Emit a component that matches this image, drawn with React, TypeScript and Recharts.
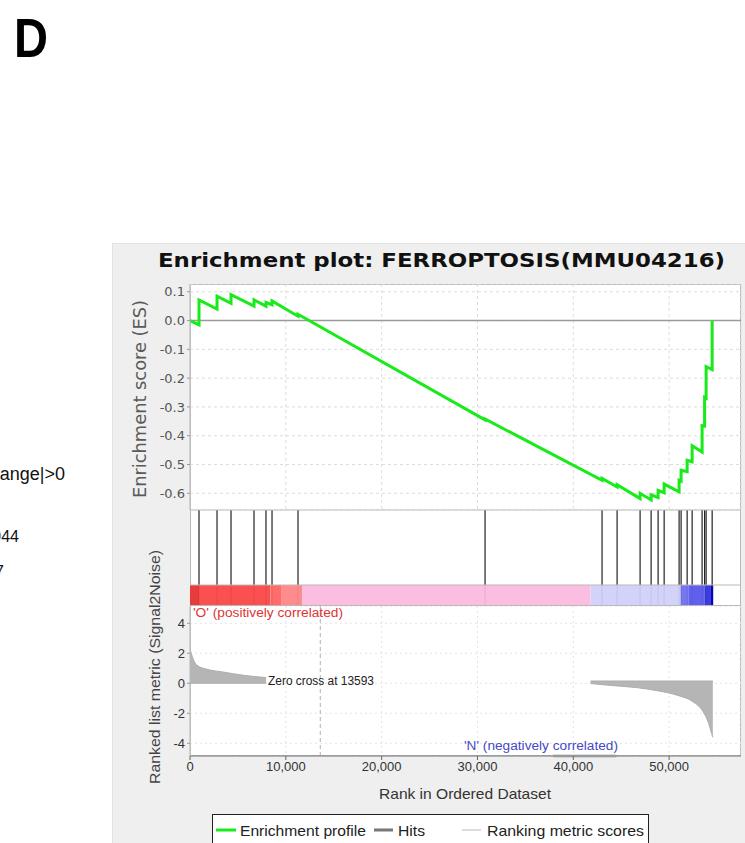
import React from "react";
import {
  Area,
  CartesianGrid,
  ComposedChart,
  Line,
  ReferenceArea,
  ReferenceLine,
  XAxis,
  YAxis,
} from "recharts";

// rank axis
const X_MAX = 57500;
const xTicks = [0, 10000, 20000, 30000, 40000, 50000];

// enrichment score
const esTicks = [0.1, 0, -0.1, -0.2, -0.3, -0.4, -0.5, -0.6];
const hitRanks = [
  940, 2820, 4280, 6680, 7930, 8560, 11270, 30790, 43000, 44570, 46970, 48120, 48850, 49480,
  51040, 51250, 51880, 52400, 53440, 53700, 53860, 54490,
];
const esBefore = [
  -0.015, 0.04, 0.06, 0.05, 0.05, 0.055, 0.015, -0.345, -0.555, -0.578, -0.618, -0.623, -0.615,
  -0.598, -0.595, -0.558, -0.525, -0.49, -0.457, -0.367, -0.27, -0.17,
];
const esAfter = [
  0.072, 0.085, 0.09, 0.072, 0.063, 0.068, 0.022, -0.342, -0.548, -0.57, -0.6, -0.605, -0.59,
  -0.568, -0.555, -0.52, -0.485, -0.435, -0.365, -0.267, -0.16, 0.0,
];

// colour bar under the hits
const bandStart = [0, 940, 8400, 9500, 11700, 41800, 51200, 52000, 53700, 54300];
const bandEnd = [940, 8400, 9500, 11700, 41800, 51200, 52000, 53700, 54300, 54600];
const bandColor = [
  "#e63c3e", "#fb5050", "#ff6c6c", "#ff8c8c", "#fbbde0", "#d3d3fa", "#7676f2", "#6060ef", "#3c3ce2", "#0606bf",
];

// ranked list metric
const metricTicks = [4, 2, 0, -2, -4];
const posRanks = [0, 300, 730, 1780, 3440, 5600, 7940];
const posValues = [2.3, 1.67, 1.2, 0.93, 0.75, 0.53, 0.38];
const negRanks = [41800, 44000, 46600, 48800, 50840, 52500, 53550, 54140, 54430, 54560];
const negValues = [-0.02, -0.15, -0.29, -0.5, -0.8, -1.24, -1.9, -2.7, -3.35, -3.6];
const NEG_TOP = 0.15;
const ZERO_CROSS = 13593;

const esData: Array<{ rank: number; es: number }> = [{ rank: 0, es: 0 }];
hitRanks.forEach((r, i) => {
  esData.push({ rank: r, es: esBefore[i] });
  esData.push({ rank: r, es: esAfter[i] });
});

const metricData: Array<{ rank: number; range: [number, number] | null }> = [
  ...posRanks.map((r, i) => ({ rank: r, range: [0, posValues[i]] as [number, number] })),
  { rank: 8200, range: null },
  ...negRanks.map((r, i) => ({ rank: r, range: [negValues[i], NEG_TOP] as [number, number] })),
];

// dummy points so the strip charts have a series to lay out against
const stripData = [
  { rank: 0, v: 0.5 },
  { rank: X_MAX, v: 0.5 },
];

const sans = "'Liberation Sans', Arial, sans-serif";
const dejavu = "'DejaVu Sans', sans-serif";

const ES_DOMAIN: [number, number] = [-0.658, 0.127];
const METRIC_DOMAIN: [number, number] = [-4.85, 5.15];

const abs = (left: number, top: number, width: number, height: number): React.CSSProperties => ({
  position: "absolute",
  left,
  top,
  width,
  height,
});

export default function App() {
  return (
    <div style={{ position: "absolute", left: 0, top: 0, width: 745, height: 843, background: "#fff", overflow: "hidden" }}>
      {/* GSEA panel background */}
      <div style={{ ...abs(112, 243, 640, 610), background: "#efefef", borderLeft: "1px solid #e2e2e2", borderTop: "1px solid #e2e2e2" }} />
      <div style={{ ...abs(190, 284, 551, 472), background: "#fff", border: "1px solid #b9b9b9", boxSizing: "border-box" }} />

      {/* enrichment profile */}
      <div style={abs(0, 284, 745, 226)}>
        <ComposedChart width={745} height={226} data={esData} margin={{ top: 0, right: 4, bottom: 0, left: 140 }}>
          <CartesianGrid stroke="#dcdcdc" strokeDasharray="3 3" />
          <XAxis type="number" dataKey="rank" domain={[0, X_MAX]} ticks={xTicks} hide allowDataOverflow />
          <YAxis
            type="number"
            domain={ES_DOMAIN}
            ticks={esTicks}
            interval={0}
            allowDataOverflow
            width={50}
            tickFormatter={(v: number) => (v === 0 ? "0.0" : v.toFixed(1))}
            tick={{ fill: "#555", fontSize: 13, fontFamily: dejavu }}
            tickLine={{ stroke: "#999" }}
            tickSize={3}
            axisLine={{ stroke: "#b9b9b9" }}
          />
          <ReferenceLine y={0} stroke="#9a9a9a" strokeWidth={1.5} />
          <Line
            type="linear"
            dataKey="es"
            stroke="#19ea19"
            strokeWidth={3}
            dot={false}
            isAnimationActive={false}
          />
        </ComposedChart>
      </div>

      {/* hits */}
      <div style={abs(0, 510, 745, 75)}>
        <ComposedChart width={745} height={75} data={stripData} margin={{ top: 0, right: 4, bottom: 0, left: 190 }}>
          <XAxis type="number" dataKey="rank" domain={[0, X_MAX]} hide allowDataOverflow />
          <YAxis type="number" domain={[0, 1]} hide />
          <Line dataKey="v" stroke="none" dot={false} isAnimationActive={false} />
          {hitRanks.map((r) => (
            <ReferenceLine key={r} x={r} stroke="#222" strokeWidth={1.2} />
          ))}
        </ComposedChart>
      </div>

      {/* colour bar */}
      <div style={abs(0, 585, 745, 20)}>
        <ComposedChart width={745} height={20} data={stripData} margin={{ top: 0, right: 4, bottom: 0, left: 190 }}>
          <XAxis type="number" dataKey="rank" domain={[0, X_MAX]} hide allowDataOverflow />
          <YAxis type="number" domain={[0, 1]} hide />
          <Line dataKey="v" stroke="none" dot={false} isAnimationActive={false} />
          {bandStart.map((s, i) => (
            <ReferenceArea key={s} x1={s} x2={bandEnd[i]} y1={0} y2={1} fill={bandColor[i]} fillOpacity={1} stroke="none" />
          ))}
          {hitRanks.map((r) => (
            <ReferenceLine key={r} x={r} stroke="#000" strokeOpacity={0.08} />
          ))}
        </ComposedChart>
      </div>

      {/* ranked list metric */}
      <div style={abs(0, 606, 745, 190)}>
        <ComposedChart width={745} height={190} data={metricData} margin={{ top: 0, right: 4, bottom: 0, left: 150 }}>
          <CartesianGrid stroke="#e4e4e4" strokeDasharray="2 3" />
          <XAxis
            type="number"
            dataKey="rank"
            domain={[0, X_MAX]}
            ticks={xTicks}
            interval={0}
            allowDataOverflow
            height={40}
            tickFormatter={(v: number) => v.toLocaleString("en-US")}
            tick={{ fill: "#333", fontSize: 13, fontFamily: sans }}
            tickLine={{ stroke: "#666" }}
            tickSize={4}
            axisLine={{ stroke: "#777" }}
          />
          <YAxis
            type="number"
            domain={METRIC_DOMAIN}
            ticks={metricTicks}
            interval={0}
            allowDataOverflow
            width={40}
            tick={{ fill: "#333", fontSize: 13, fontFamily: sans }}
            tickLine={{ stroke: "#999" }}
            tickSize={3}
            axisLine={{ stroke: "#b9b9b9" }}
          />
          <ReferenceLine x={ZERO_CROSS} stroke="#b0b0b0" strokeDasharray="4 3" />
          <ReferenceLine
            segment={[
              { x: 37900, y: METRIC_DOMAIN[0] },
              { x: 44500, y: METRIC_DOMAIN[0] },
            ]}
            stroke="#bdbdbd"
            strokeWidth={3}
          />
          <Area
            type="monotone"
            dataKey="range"
            fill="#b5b5b5"
            fillOpacity={1}
            stroke="#adadad"
            strokeWidth={1}
            connectNulls={false}
            isAnimationActive={false}
          />
        </ComposedChart>
      </div>

      {/* text and panel separators */}
      <svg width={745} height={843} style={{ position: "absolute", left: 0, top: 0, pointerEvents: "none" }}>
        <text x={14} y={57} fontFamily={sans} fontWeight="bold" fontSize={56} textLength={34} lengthAdjust="spacingAndGlyphs">
          D
        </text>
        <text x={65} y={480} textAnchor="end" fontFamily={sans} fontSize={18} fill="#111">
          ange|&gt;0
        </text>
        <text x={19} y={542} textAnchor="end" fontFamily={sans} fontSize={16} fill="#111">
          944
        </text>
        <text x={4} y={577} textAnchor="end" fontFamily={sans} fontSize={16} fill="#111">
          7
        </text>

        <text
          x={158}
          y={267}
          fontFamily={dejavu}
          fontWeight="bold"
          fontSize={19}
          fill="#111"
          textLength={567}
          lengthAdjust="spacingAndGlyphs"
        >
          Enrichment plot: FERROPTOSIS(MMU04216)
        </text>

        <line x1={190} x2={741} y1={510} y2={510} stroke="#b9b9b9" />
        <line x1={190} x2={741} y1={585} y2={585} stroke="#b9b9b9" />
        <line x1={190} x2={741} y1={605.5} y2={605.5} stroke="#b9b9b9" />

        <text
          transform="translate(146 399) rotate(-90)"
          textAnchor="middle"
          fontFamily={dejavu}
          fontSize={17}
          fill="#5a5a5a"
          textLength={198}
          lengthAdjust="spacingAndGlyphs"
        >
          Enrichment score (ES)
        </text>
        <text
          transform="translate(160 667) rotate(-90)"
          textAnchor="middle"
          fontFamily={sans}
          fontSize={15}
          fill="#444"
          textLength={234}
          lengthAdjust="spacingAndGlyphs"
        >
          Ranked list metric (Signal2Noise)
        </text>

        <text x={193} y={617} fontFamily={sans} fontSize={12} fill="#e03434" textLength={150} lengthAdjust="spacingAndGlyphs">
          'O' (positively correlated)
        </text>
        <text x={268} y={685} fontFamily={sans} fontSize={12} fill="#222" textLength={106} lengthAdjust="spacingAndGlyphs">
          Zero cross at 13593
        </text>
        <text x={464} y={750} fontFamily={sans} fontSize={12} fill="#4848c8" textLength={154} lengthAdjust="spacingAndGlyphs">
          'N' (negatively correlated)
        </text>

        <text x={465} y={799} textAnchor="middle" fontFamily={sans} fontSize={15} fill="#333" textLength={172} lengthAdjust="spacingAndGlyphs">
          Rank in Ordered Dataset
        </text>

        {/* legend */}
        <rect x={212.5} y={814.5} width={436} height={40} fill="#fff" stroke="#222" />
        <line x1={216} x2={236} y1={830} y2={830} stroke="#19ea19" strokeWidth={3} />
        <text x={240} y={836} fontFamily={sans} fontSize={15} fill="#222" textLength={126} lengthAdjust="spacingAndGlyphs">
          Enrichment profile
        </text>
        <line x1={374} x2={393} y1={830} y2={830} stroke="#777" strokeWidth={3} />
        <text x={398} y={836} fontFamily={sans} fontSize={15} fill="#222" textLength={27} lengthAdjust="spacingAndGlyphs">
          Hits
        </text>
        <line x1={462} x2={481} y1={830} y2={830} stroke="#dcdcdc" strokeWidth={2} />
        <text x={487} y={836} fontFamily={sans} fontSize={15} fill="#222" textLength={157} lengthAdjust="spacingAndGlyphs">
          Ranking metric scores
        </text>
      </svg>
    </div>
  );
}
